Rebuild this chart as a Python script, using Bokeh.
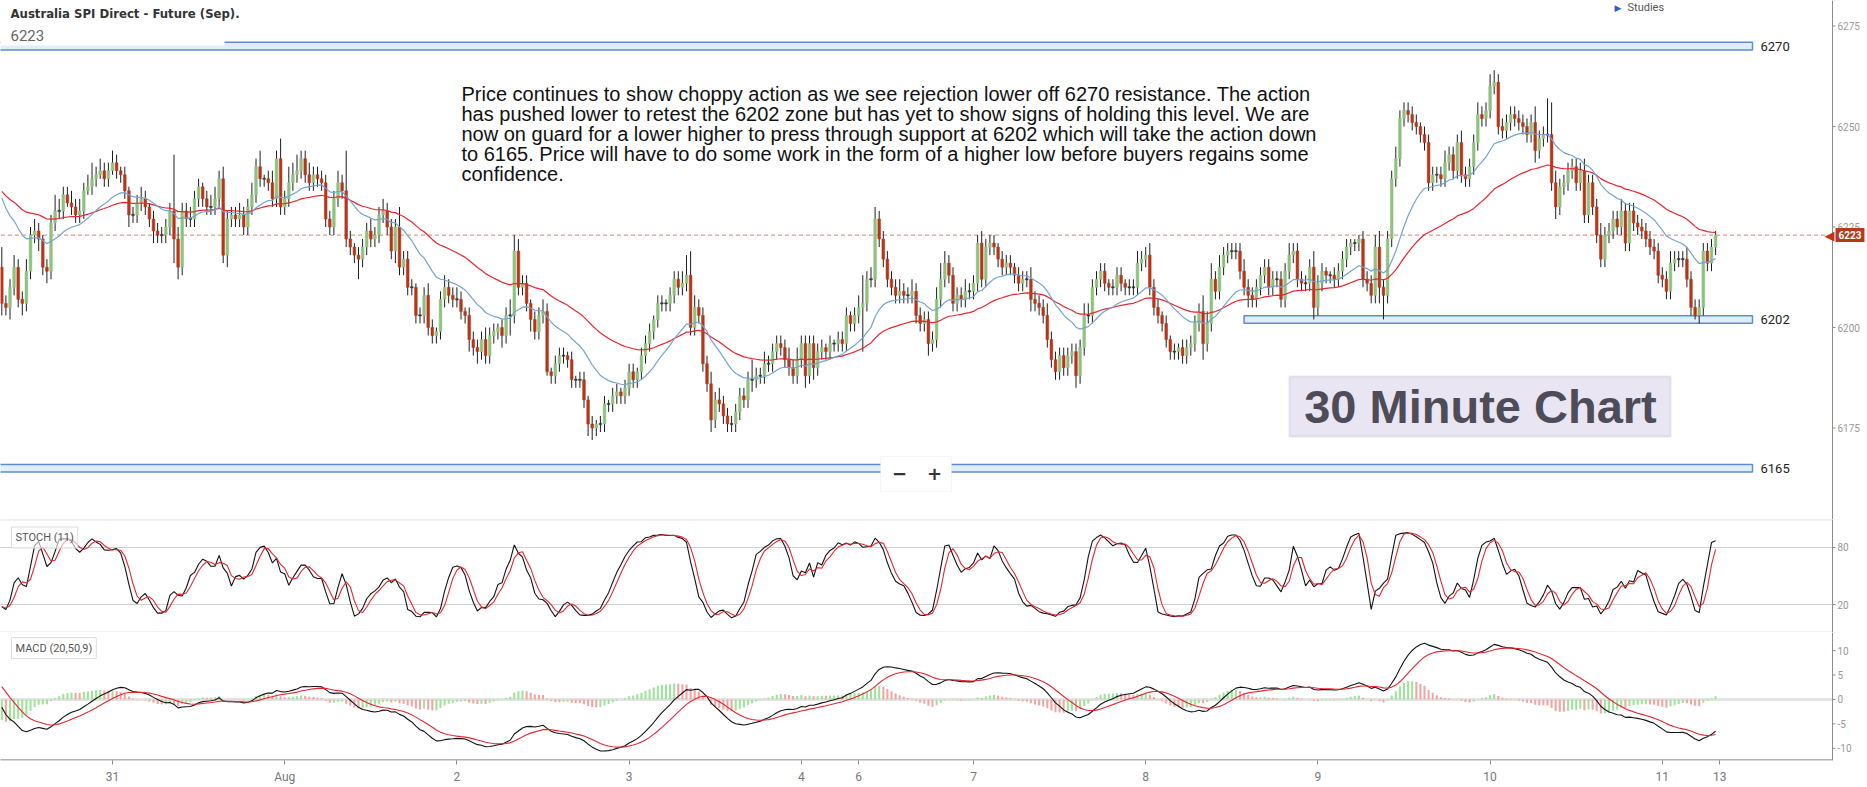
import numpy as np
from bokeh.plotting import figure
from bokeh.models import Range1d, FixedTicker, Span, Label, BoxAnnotation, ColumnDataSource
from bokeh.layouts import column
from bokeh.embed import file_html
from bokeh.resources import INLINE

# ---------------- data (30-minute bars) ----------------
TITLE = "Australia SPI Direct - Future (Sep)."
FIRST_OPEN = 6215
CLOSES = [
6206,6205,6210,6215,6207,6206,6214,6223,6224,6222,6215,6214,6226,6229,6229,6233,6231,6230,6228,6229,
6234,6235,6237,6238,6239,6237,6239,6241,6239,6238,6234,6228,6228,6231,6232,6230,6227,6224,6223,6223,
6225,6229,6222,6215,6229,6227,6227,6232,6235,6232,6230,6230,6232,6237,6218,6227,6228,6227,6228,6225,
6230,6233,6240,6237,6237,6236,6232,6242,6230,6232,6236,6238,6239,6242,6238,6236,6238,6237,6236,6227,
6225,6232,6236,6234,6222,6220,6218,6217,6220,6224,6222,6223,6228,6229,6225,6219,6225,6215,6217,6210,
6210,6203,6203,6208,6200,6198,6199,6207,6210,6208,6207,6207,6204,6203,6197,6195,6194,6197,6193,6198,
6199,6200,6198,6203,6203,6219,6210,6211,6206,6202,6199,6203,6204,6189,6188,6191,6193,6193,6192,6187,
6187,6187,6182,6176,6175,6176,6176,6181,6181,6183,6184,6183,6185,6189,6187,6189,6193,6196,6199,6202,
6206,6206,6206,6208,6212,6210,6211,6213,6200,6205,6203,6191,6186,6177,6182,6181,6178,6176,6176,6179,
6183,6182,6187,6187,6188,6188,6191,6191,6194,6196,6195,6192,6190,6188,6192,6196,6188,6196,6190,6194,
6195,6194,6196,6196,6197,6196,6203,6201,6203,6205,6206,6212,6212,6227,6222,6217,6212,6210,6208,6209,
6208,6208,6209,6203,6201,6202,6196,6197,6207,6212,6216,6213,6206,6208,6207,6209,6209,6211,6221,6212,
6220,6221,6220,6217,6215,6216,6215,6213,6211,6212,6212,6207,6206,6205,6203,6197,6192,6189,6193,6190,
6193,6194,6188,6195,6203,6203,6210,6212,6214,6211,6210,6210,6213,6211,6210,6210,6210,6216,6217,6218,
6210,6205,6203,6201,6197,6194,6194,6195,6193,6195,6196,6201,6204,6196,6201,6212,6209,6215,6218,6219,
6219,6219,6214,6210,6208,6207,6210,6213,6215,6210,6212,6212,6207,6214,6218,6219,6212,6211,6211,6215,
6205,6211,6214,6213,6213,6212,6214,6217,6220,6221,6221,6222,6212,6211,6208,6220,6210,6208,6222,6237,
6242,6252,6254,6253,6251,6250,6248,6246,6236,6238,6238,6237,6241,6243,6239,6246,6238,6237,6240,6246,
6253,6252,6254,6260,6261,6250,6249,6251,6253,6252,6251,6250,6248,6251,6244,6247,6248,6248,6236,6230,
6235,6236,6239,6240,6236,6239,6228,6236,6230,6223,6217,6223,6224,6227,6225,6229,6221,6229,6226,6225,
6224,6222,6220,6219,6213,6212,6209,6216,6217,6217,6217,6212,6205,6203,6205,6219,6216,6220,6223]
UPPER_WICK = [
5,2,2,3,2,2,3,2,3,2,1,2,2,4,3,2,2,3,2,3, 2,3,4,2,3,2,2,3,2,1,2,1,2,2,3,2,1,2,2,2,
2,2,14,3,2,2,3,2,2,1,2,3,3,2,3,2,2,2,3,2, 2,3,2,4,1,2,3,2,5,2,4,3,4,2,2,3,2,2,2,2,
2,2,3,2,10,2,1,2,2,2,3,2,2,3,2,2,2,5,2,2, 2,1,2,2,3,2,1,2,3,2,2,3,2,1,2,2,2,2,3,2,
2,1,2,2,4,4,3,2,2,1,2,2,3,2,1,2,2,2,1,2, 1,2,2,1,2,1,2,2,1,2,2,1,2,2,2,1,2,2,2,1,
2,2,1,2,2,2,3,5,6,3,2,2,2,3,2,3,2,2,2,2, 2,2,2,5,2,2,3,2,2,2,2,2,3,2,3,2,2,2,2,2,
2,1,2,1,2,2,2,1,2,3,7,2,3,3,2,2,2,2,2,3, 2,2,3,2,2,2,2,2,3,4,3,2,2,2,2,3,2,2,2,3,
2,2,2,1,2,2,2,1,2,2,2,3,2,2,2,3,2,2,2,2, 2,2,2,2,3,3,2,2,2,2,1,2,2,2,1,2,2,3,2,2,
3,2,2,1,2,1,2,1,2,2,2,2,2,4,3,4,2,3,2,2, 2,2,2,3,2,2,2,2,2,2,2,2,2,2,3,2,2,2,2,2,
4,2,2,1,1,2,2,2,2,1,1,1,2,2,2,3,4,2,2,2, 3,2,2,2,2,2,1,2,2,2,2,2,3,2,2,2,3,2,2,2,
3,2,2,3,3,2,2,2,2,2,2,2,2,2,4,2,2,9,8,3, 2,2,2,2,2,2,3,2,2,2,3,2,2,2,2,3,2,2,2,2,
2,2,2,2,2,2,2,3,2,2,2,3,2,2,2,2,2,2,1]
LOWER_WICK = [
3,2,3,2,2,3,2,2,2,3,2,3,2,2,2,2,1,2,2,2, 2,1,2,2,1,2,2,1,2,2,2,3,2,2,2,2,2,3,2,2,
2,2,6,3,2,2,2,2,2,2,2,2,2,2,2,3,2,2,2,2, 2,2,2,2,2,2,2,2,2,2,2,2,2,2,2,2,2,2,2,2,
2,2,2,2,2,2,2,5,2,2,2,2,2,2,2,2,3,2,2,2, 2,2,2,2,2,2,2,2,2,2,2,2,2,2,3,2,3,2,2,2,
2,2,3,2,5,2,2,2,2,3,2,2,2,1,2,2,2,2,2,2, 2,2,2,3,3,2,2,2,2,2,2,2,2,2,2,2,2,2,2,2,
2,2,2,2,2,2,2,2,2,2,2,2,2,3,2,2,2,2,2,2, 2,2,2,3,2,2,2,2,2,2,2,2,2,2,2,2,3,2,3,2,
2,2,2,2,2,2,2,2,2,2,11,2,2,2,2,2,2,2,2,2, 2,2,2,2,2,2,3,2,2,2,2,2,2,2,2,2,2,2,2,2,
2,2,2,2,2,2,2,2,2,2,2,3,2,2,2,2,2,2,2,2, 2,2,3,2,2,2,2,2,2,2,2,2,2,2,2,2,2,2,2,2,
2,2,2,2,2,2,2,2,2,2,2,2,2,4,2,2,2,2,2,2, 2,2,2,2,3,2,2,2,2,2,2,2,2,2,2,2,2,2,2,2,
3,2,2,2,2,2,2,2,2,2,2,2,2,2,2,2,4,6,2,2, 2,2,2,2,2,2,2,2,2,2,2,2,2,2,2,2,2,2,2,2,
2,2,2,2,2,2,2,2,2,2,2,2,2,2,3,2,2,2,2,3, 2,2,2,2,2,2,2,2,2,2,2,2,2,2,2,2,2,2,2,2,
2,2,2,2,2,2,2,2,2,2,2,2,2,1,2,2,2,2,2]
DAY_TICKS = [27, 69, 111, 153, 195, 209, 237, 279, 321, 363, 405, 419]
DAY_LABELS = ["31", "Aug", "2", "3", "4", "6", "7", "8", "9", "10", "11", "13"]
LEVELS = [6270, 6202, 6165]
LEVEL_START_BAR = [None, 303, None]
PRICE_TICKS = [6175, 6200, 6225, 6250, 6275]
STOCH_TICKS = [20, 80]
MACD_TICKS = [-10, -5, 0, 5, 10]
EMA_FAST, EMA_SLOW, SIGNAL_N, STOCH_N = 20, 50, 9, 11
EMA_FAST_START, EMA_SLOW_START, SIGNAL_START = 6235.0, 6235.0, 3.7   # values at left edge
NOTE = [
    "Price continues to show choppy action as we see rejection lower off 6270 resistance. The action",
    "has pushed lower to retest the 6202 zone but has yet to show signs of holding this level. We are",
    "now on guard for a lower higher to press through support at 6202 which will take the action down",
    "to 6165. Price will have to do some work in the form of a higher low before buyers regains some",
    "confidence.",
]

# ---------------- derived series ----------------
c = np.array(CLOSES, dtype=float)
n = len(c)
idx = np.arange(n)
o = np.concatenate([[FIRST_OPEN], c[:-1]])
hi = np.maximum(o, c) + np.array(UPPER_WICK, dtype=float)
lo = np.minimum(o, c) - np.array(LOWER_WICK, dtype=float)


def ema(vals, period, start):
    a = 2.0 / (period + 1)
    e = start
    out = []
    for v in vals:
        e = e + a * (v - e)
        out.append(e)
    return np.array(out)


def sma(vals, period):
    vals = np.asarray(vals)
    return np.array([vals[max(0, i - period + 1):i + 1].mean() for i in range(len(vals))])


ema_f = ema(c, EMA_FAST, EMA_FAST_START)
ema_s = ema(c, EMA_SLOW, EMA_SLOW_START)
macd = ema_f - ema_s
sig = ema(macd, SIGNAL_N, SIGNAL_START)
hist = macd - sig
hist_col = ["#9fe29a" if (i == 0 or hist[i] >= hist[i - 1]) else "#f4a3a3" for i in range(n)]

kf = []
for i in range(n):
    j = max(0, i - STOCH_N + 1)
    hh, ll = hi[j:i + 1].max(), lo[j:i + 1].min()
    kf.append(100.0 * (c[i] - ll) / (hh - ll) if hh > ll else 50.0)
k_line = sma(kf, 3)
d_line = sma(k_line, 3)

btop = np.maximum(o, c)
bbot = np.minimum(o, c)
flat = (btop - bbot) < 0.3
btop = np.where(flat, btop + 0.15, btop)
bbot = np.where(flat, bbot - 0.15, bbot)
bcol = ["#8fc17f" if c[i] > o[i] else ("#b5361b" if c[i] < o[i] else "#333333") for i in range(n)]

src = ColumnDataSource(dict(x=idx, hi=hi, lo=lo, top=btop, bot=bbot, col=bcol,
                            ef=ema_f, es=ema_s, k=k_line, d=d_line,
                            macd=macd, sig=sig, hist=hist, hcol=hist_col))

# ---------------- layout helpers (page pixel -> data) ----------------
PXB = 4.1           # pixels per bar
def X(px):
    return (px - 1.3) / PXB
def Y(py):
    return 6200 + (327 - py) / 4.02

W = 1866
AXIS_PX = 1832
xr = Range1d(X(0), X(W))
XL, XA = X(0) - 5, X(AXIS_PX)

AX_FONT = "Roboto"
AX_COL = "#8c8c8c"
AX_LAB = "#999999"


def base_fig(height, yr, x_axis):
    p = figure(width=W, height=height, x_range=xr, y_range=yr, output_backend="svg",
               toolbar_location=None, y_axis_location=None,
               x_axis_location=("below" if x_axis else None),
               min_border_left=0, min_border_right=0, min_border_top=0, min_border_bottom=0)
    p.outline_line_color = None
    p.xgrid.visible = False
    p.ygrid.visible = False
    p.background_fill_color = "white"
    return p


def right_axis(p, ticks):
    """price/indicator scale drawn at the right edge of the plotting area"""
    p.add_layout(Span(location=XA, dimension="height", line_color=AX_COL, line_width=1))
    p.segment(x0=[XA] * len(ticks), x1=[X(AXIS_PX + 3)] * len(ticks), y0=ticks, y1=ticks,
              line_color=AX_COL, line_width=1)
    for t in ticks:
        p.add_layout(Label(x=X(AXIS_PX + 5), y=t, text=str(t), text_font=AX_FONT,
                           text_font_size="10px", text_color=AX_LAB, text_baseline="middle"))


def hlines(p, ys, color, width=1, level="underlay"):
    p.segment(x0=[XL] * len(ys), x1=[XA] * len(ys), y0=ys, y1=ys, line_color=color,
              line_width=width, level=level)


# ---------------- main price panel ----------------
pm = base_fig(519, Range1d(Y(519), Y(0)), False)

for lvl, start in zip(LEVELS, LEVEL_START_BAR):
    left = start if start is not None else XL
    pm.quad(left=[left], right=[X(1752)], top=[lvl + 0.95], bottom=[lvl - 0.95],
            fill_color="#e2edfa", line_color="#5b8fc9", line_width=1.5)

last = float(c[-1])
pm.segment(x0=[XL], x1=[X(1826)], y0=[last], y1=[last], line_color="#e59b8c",
           line_dash="4 3", line_width=1.2, level="underlay")

pm.segment(x0="x", y0="lo", x1="x", y1="hi", source=src, line_color="#1e1e1e", line_width=1)
pm.vbar(x="x", top="top", bottom="bot", width=0.66, source=src, fill_color="col",
        line_color="col", line_width=0.5)
pm.line("x", "es", source=src, line_color="#e8262f", line_width=1.2)
pm.line("x", "ef", source=src, line_color="#74a3d2", line_width=1.2)
right_axis(pm, PRICE_TICKS)

# header
pm.add_layout(BoxAnnotation(left=XL - 5, right=X(224), bottom=Y(45), top=Y(0) + 5,
                            fill_color="white", fill_alpha=1.0, line_color=None))
pm.add_layout(Label(x=X(10), y=Y(13), text=TITLE, text_font="'DejaVu Sans Condensed', Roboto",
                    text_font_style="bold", text_font_size="13px", text_color="#333333",
                    text_baseline="middle"))
pm.add_layout(Label(x=X(10), y=Y(35), text=str(int(round(last))), text_font="Roboto",
                    text_font_size="15px", text_color="#666666", text_baseline="middle"))
pm.add_layout(Label(x=X(1614), y=Y(7), text="\u25b6", text_font="DejaVu Sans",
                    text_font_size="9px", text_color="#2a62c9", text_baseline="middle"))
pm.add_layout(Label(x=X(1627), y=Y(7), text="Studies", text_font="Roboto",
                    text_font_size="11px", text_color="#555555", text_baseline="middle"))

for i, line in enumerate(NOTE):
    pm.add_layout(Label(x=X(461), y=Y(93 + 20 * i), text=line, text_font="Liberation Sans",
                        text_font_size="20px", text_color="#111111", text_baseline="middle"))

for lvl in LEVELS:
    pm.add_layout(Label(x=X(1760), y=lvl, text=str(lvl), text_font="Roboto",
                        text_font_size="13px", text_color="#222222", text_baseline="middle"))

# 30 minute box
pm.add_layout(BoxAnnotation(left=X(1289), right=X(1670), top=Y(376), bottom=Y(436),
                            fill_color="#e9e5f3", fill_alpha=1.0, line_color="#bab3cf", line_width=2))
pm.add_layout(Label(x=X(1480), y=Y(406), text="30 Minute Chart", text_font="Liberation Sans",
                    text_font_style="bold", text_font_size="47px", text_color="#4e4c58",
                    text_align="center", text_baseline="middle"))

# zoom buttons
pm.add_layout(BoxAnnotation(left=X(880), right=X(951), top=Y(456), bottom=Y(491),
                            fill_color="white", fill_alpha=1.0, line_color="#dedede", line_width=1))
pm.add_layout(Label(x=X(899), y=Y(473), text="\u2212", text_font="DejaVu Sans", text_font_style="bold",
                    text_font_size="18px", text_color="#333333", text_align="center", text_baseline="middle"))
pm.add_layout(Label(x=X(934), y=Y(473), text="+", text_font="DejaVu Sans", text_font_style="bold",
                    text_font_size="18px", text_color="#333333", text_align="center", text_baseline="middle"))

# last price tag on the axis
pm.add_layout(Label(x=X(1824), y=last, text="\u25c0", text_font="DejaVu Sans",
                    text_font_size="13px", text_color="#b8381c", text_baseline="middle"))
pm.add_layout(Label(x=X(1835), y=last, text=str(int(round(last))), text_font="Roboto",
                    text_font_size="10px", text_font_style="bold", text_color="white",
                    text_baseline="middle", background_fill_color="#b8381c",
                    background_fill_alpha=1.0, padding=3))

# ---------------- stochastic panel ----------------
S_LO, S_HI = -9.47, 109.47
ps = base_fig(113, Range1d(S_LO, S_HI), False)
hlines(ps, STOCH_TICKS + [S_HI - 0.3, S_LO + 0.3], "#cfcfcf")
ps.line("x", "k", source=src, line_color="#111111", line_width=1.1)
ps.line("x", "d", source=src, line_color="#e3262f", line_width=1.1)
right_axis(ps, STOCH_TICKS)
ps.add_layout(Label(x=X(11), y=90.5, text="STOCH (11)", text_font="Roboto", text_font_size="11px",
                    text_color="#555555", text_baseline="middle", background_fill_color="white",
                    background_fill_alpha=0.6, border_line_color="#dddddd", padding=4))

# ---------------- MACD panel ----------------
M_LO, M_HI = -12.5, 13.7
pd_ = base_fig(154, Range1d(M_LO, M_HI), True)
hlines(pd_, [0], "#e4e4e4", width=3)
pd_.vbar(x="x", top="hist", bottom=0, width=0.5, source=src, fill_color="hcol", line_color=None)
pd_.line("x", "macd", source=src, line_color="#111111", line_width=1.1)
pd_.line("x", "sig", source=src, line_color="#e3262f", line_width=1.1)
hlines(pd_, [M_LO + 0.1], "#666666", width=1, level="glyph")
right_axis(pd_, MACD_TICKS)
pd_.add_layout(Label(x=X(11), y=10.5, text="MACD (20,50,9)", text_font="Roboto", text_font_size="11px",
                     text_color="#555555", text_baseline="middle", background_fill_color="white",
                     background_fill_alpha=0.6, border_line_color="#dddddd", padding=4))
xa = pd_.xaxis[0]
xa.ticker = FixedTicker(ticks=DAY_TICKS)
xa.major_label_overrides = {t: lab for t, lab in zip(DAY_TICKS, DAY_LABELS)}
xa.axis_line_color = None
xa.major_tick_line_color = "#888888"
xa.major_tick_out = 4
xa.major_tick_in = 0
xa.minor_tick_line_color = None
xa.major_label_text_color = "#777777"
xa.major_label_text_font = AX_FONT
xa.major_label_text_font_size = "12px"
xa.major_label_standoff = 5

layout = column(pm, ps, pd_)
open("out.html", "w").write(file_html(layout, INLINE))
